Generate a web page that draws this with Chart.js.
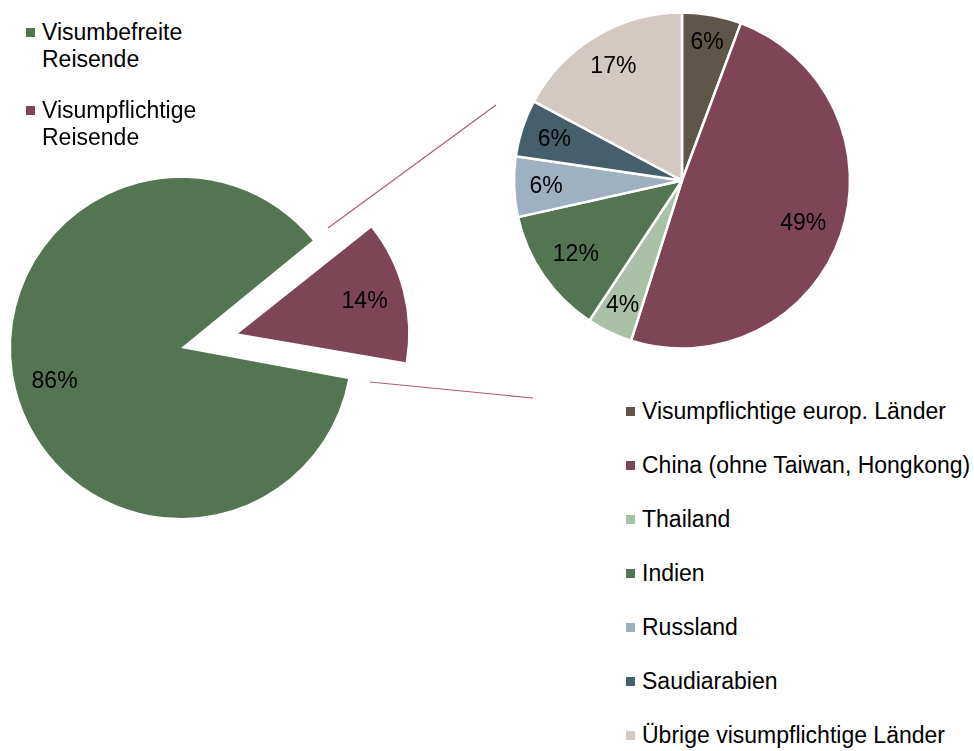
<!DOCTYPE html>
<html>
<head>
<meta charset="utf-8">
<script src="https://cdn.jsdelivr.net/npm/chart.js@4.4.1/dist/chart.umd.min.js"></script>
<style>
html,body{margin:0;padding:0;background:#fff;width:974px;height:751px;overflow:hidden;position:relative;font-family:"Liberation Sans",Arial,sans-serif;}
canvas{position:absolute;}
.leg{position:absolute;font-size:23px;line-height:27px;color:#000;white-space:nowrap;}
.sw{position:absolute;width:9px;height:9px;}
svg{position:absolute;left:0;top:0;}
</style>
</head>
<body>
<svg width="974" height="751">
  <line x1="328" y1="228" x2="496" y2="105" stroke="#B05A78" stroke-width="1.2"/>
  <line x1="370" y1="382" x2="533" y2="398" stroke="#B05A78" stroke-width="1.2"/>
</svg>
<canvas id="leftPie" width="480" height="480" style="left:-59px;top:108px"></canvas>
<canvas id="rightPie" width="360" height="361" style="left:502px;top:0px"></canvas>
<div id="legends"></div>
<script>
// ---- data ----
const mainCategories = ['Visumbefreite Reisende', 'Visumpflichtige Reisende'];
const mainLegendLines = [['Visumbefreite', 'Reisende'], ['Visumpflichtige', 'Reisende']];
const mainValues = [86.2, 13.8];
const mainColors = ['#547552', '#7E4557'];

const detailCategories = [
  'Visumpflichtige europ. Länder',
  'China (ohne Taiwan, Hongkong)',
  'Thailand',
  'Indien',
  'Russland',
  'Saudiarabien',
  'Übrige visumpflichtige Länder'
];
const detailValues = [5.7, 49.2, 4.4, 12.2, 5.8, 5.5, 17.2];
const detailColors = ['#5F5549', '#7E4557', '#A9C1A7', '#547552', '#9DB1C0', '#465F6C', '#D3C8C2'];

const FONT = '23px "Liberation Sans", Arial, sans-serif';

// keep exploded slice at the same radius as the others
const explodeFix = {
  id: 'explodeFix',
  beforeDatasetsDraw(chart) {
    const R = chart.options.radius;
    chart.getDatasetMeta(0).data.forEach(arc => {
      const off = (arc.options.offset || 0) / 4;
      const circ = arc.endAngle - arc.startAngle;
      arc.outerRadius = R - off * (1 - Math.sin(Math.min(Math.PI, circ)));
    });
  }
};

// percentage labels inside slices
const pctLabels = {
  id: 'pctLabels',
  afterDatasetsDraw(chart, args, opts) {
    const ctx = chart.ctx;
    const meta = chart.getDatasetMeta(0);
    const data = chart.data.datasets[0].data;
    const total = data.reduce((a, b) => a + b, 0);
    const R = chart.options.radius;
    ctx.save();
    ctx.font = FONT;
    ctx.fillStyle = '#000';
    ctx.textAlign = 'center';
    ctx.textBaseline = 'middle';
    meta.data.forEach((arc, i) => {
      const mid = (arc.startAngle + arc.endAngle) / 2;
      const off = (arc.options.offset || 0) / 4;
      const txt = Math.round(data[i] / total * 100) + '%';
      const hw = ctx.measureText(txt).width / 2, hh = 9;
      const ext = hw * Math.abs(Math.cos(mid)) + hh * Math.abs(Math.sin(mid));
      const d = R - opts.margin - ext;
      ctx.fillText(txt, arc.x + Math.cos(mid) * (off + d), arc.y + Math.sin(mid) * (off + d) + 1);
    });
    ctx.restore();
  }
};

new Chart(document.getElementById('leftPie'), {
  type: 'pie',
  data: {
    labels: mainCategories,
    datasets: [{
      data: mainValues,
      backgroundColor: mainColors,
      borderWidth: 0,
      offset: [0, 236]
    }]
  },
  options: {
    responsive: false,
    animation: false,
    radius: 170,
    rotation: 100.5,
    layout: { padding: 0 },
    events: [],
    plugins: { legend: { display: false }, tooltip: { enabled: false }, pctLabels: { margin: 15 } }
  },
  plugins: [explodeFix, pctLabels]
});

new Chart(document.getElementById('rightPie'), {
  type: 'pie',
  data: {
    labels: detailCategories,
    datasets: [{
      data: detailValues,
      backgroundColor: detailColors,
      borderColor: '#ffffff',
      borderWidth: 2.5
    }]
  },
  options: {
    responsive: false,
    animation: false,
    radius: 168,
    rotation: 0,
    layout: { padding: 0 },
    events: [],
    plugins: { legend: { display: false }, tooltip: { enabled: false }, pctLabels: { margin: 15 } }
  },
  plugins: [pctLabels]
});

// ---- HTML legends ----
const legends = document.getElementById('legends');
function addItem(lines, color, x, centerY, swX) {
  const d = document.createElement('div');
  d.className = 'leg';
  d.style.left = x + 'px';
  d.style.top = (centerY - 13.5) + 'px';
  d.innerHTML = lines.join('<br>');
  legends.appendChild(d);
  const s = document.createElement('div');
  s.className = 'sw';
  s.style.background = color;
  s.style.left = swX + 'px';
  s.style.top = (centerY - 4.5) + 'px';
  legends.appendChild(s);
}
const leftLegendY = [32, 110];
mainLegendLines.forEach((lines, i) => addItem(lines, mainColors[i], 42, leftLegendY[i], 26));
detailCategories.forEach((c, i) => addItem([c], detailColors[i], 642, 411 + 54 * i, 626));
</script>
</body>
</html>
